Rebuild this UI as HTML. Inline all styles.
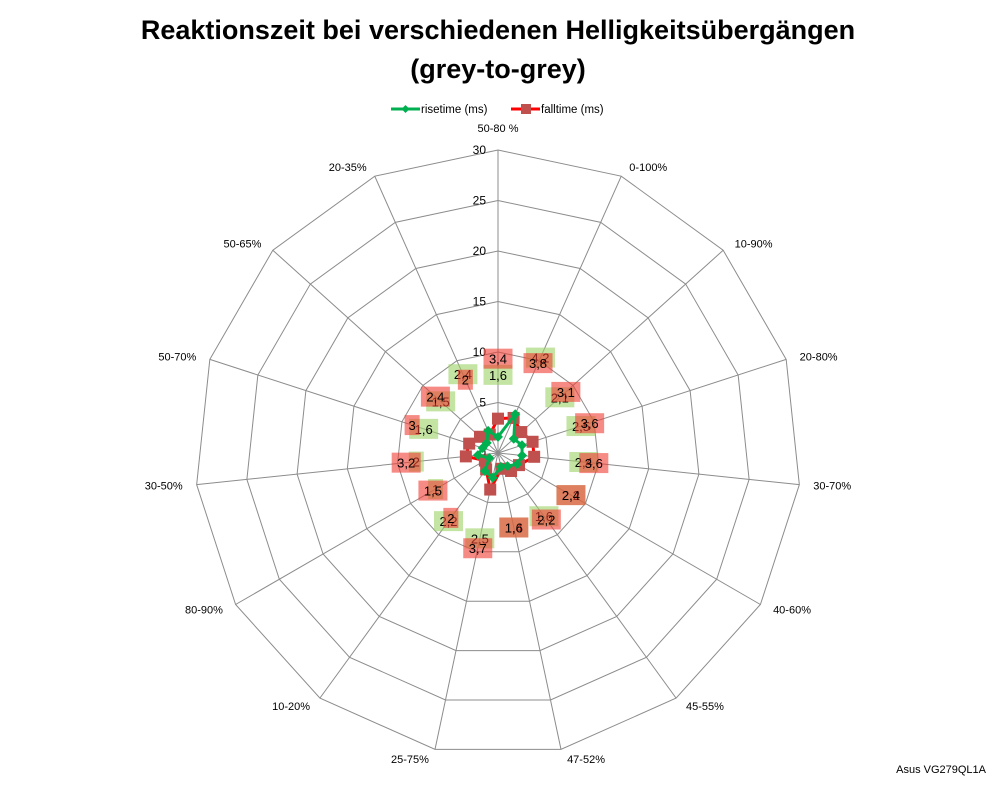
<!DOCTYPE html>
<html><head><meta charset="utf-8">
<style>
body{margin:0;background:#fff;}
svg{display:block;font-family:"Liberation Sans",sans-serif;}
</style></head>
<body>
<svg width="998" height="786" viewBox="0 0 998 786">
<text x="498" y="39" text-anchor="middle" font-size="27" font-weight="bold">Reaktionszeit bei verschiedenen Helligkeitsübergängen</text>
<text x="498" y="78" text-anchor="middle" font-size="27" font-weight="bold">(grey-to-grey)</text>
<g>
<g>
<line x1="391" y1="109" x2="420" y2="109" stroke="#00b050" stroke-width="3"/>
<path d="M405.5 105 L409.5 109 L405.5 113 L401.5 109Z" fill="#00b050"/>
<text x="421" y="113" font-size="11.5">risetime (ms)</text></g>
<g>
<line x1="511" y1="109" x2="540" y2="109" stroke="#ff0000" stroke-width="3"/>
<rect x="521" y="104" width="10" height="10" fill="#c0504d"/>
<text x="541" y="113" font-size="11.5">falltime (ms)</text></g>
</g>
<g id="grid"></g>
<g id="labels"></g>
<g id="series"></g>
<text x="986" y="773" text-anchor="end" font-size="11">Asus VG279QL1A</text>
</svg>
<script>
const categories=["50-80 %","0-100%","10-90%","20-80%","30-70%","40-60%","45-55%","47-52%","25-75%","10-20%","80-90%","30-50%","50-70%","50-65%","20-35%"];
const riseValues=[1.6,4.2,2.1,2.5,2.4,2.2,1.6,1.4,2.5,2.2,1,2,1.6,1.5,2.4];
const fallValues=[3.4,3.8,3.1,3.6,3.6,2.4,2.2,1.6,3.7,2,1.5,3.2,3,2.4,2];
const tickValues=[0,5,10,15,20,25,30];
const NS="http://www.w3.org/2000/svg";
const cx=498,cy=453,R=303,maxV=30,N=categories.length;
function ang(i){return -Math.PI/2+i*2*Math.PI/N;}
function pt(i,v){const r=v/maxV*R,a=ang(i);return [cx+r*Math.cos(a),cy+r*Math.sin(a)];}
function mk(tag,attrs,parent){const e=document.createElementNS(NS,tag);for(const k in attrs)e.setAttribute(k,attrs[k]);parent.appendChild(e);return e;}
const grid=document.getElementById('grid');
tickValues.forEach(t=>{if(t===0)return;
  const pts=categories.map((c,i)=>pt(i,t).join(',')).join(' ');
  const p=mk('polygon',{points:pts,fill:'none',stroke:'#8c8c8c','stroke-width':1},grid);
  
  
});
categories.forEach((c,i)=>{const [x,y]=pt(i,maxV);
  const l=mk('line',{x1:cx,y1:cy,x2:x,y2:y,stroke:'#8c8c8c','stroke-width':1},grid);
  
  
});
tickValues.forEach(t=>{const tx=mk('text',{x:cx-12,y:cy-t/maxV*R+4,'text-anchor':'end','font-size':12},grid);tx.textContent=t;
  
  
});
const labels=document.getElementById('labels');
categories.forEach((c,i)=>{const a=ang(i);const [ex,ey]=pt(i,maxV);
  const cs=Math.cos(a),sn=Math.sin(a);
  const mid=Math.abs(cs)<0.2;
  const anchor=mid?'middle':(cs>0?'start':'end');
  const x=mid?ex:ex+cs*10+(cs>0?4:-4);
  const y=ey+sn*(mid?22:10)+4;
  const t=mk('text',{x:x,y:y,'text-anchor':anchor,'font-size':11},labels);t.textContent=c;
  
  
});
const series=document.getElementById('series');
function fmt(v){return String(v).replace('.',',');}
function drawLabels(vals,color,dy){vals.forEach((v,i)=>{const r=v/maxV*R+60+dy,a=ang(i);
  const x=cx+r*Math.cos(a),y=cy+r*Math.sin(a);
  const s=fmt(v);const w=s.length*7+8;
  const b=mk('rect',{x:x-w/2,y:y-10,width:w,height:20,fill:color},series);
  
  
  const t=mk('text',{x:x,y:y+5,'text-anchor':'middle','font-size':13},series);t.textContent=s;
  
  
});}
drawLabels(riseValues,'rgba(155,210,100,0.6)',2);
drawLabels(fallValues,'rgba(240,60,50,0.6)',0);
function line(vals,color,name){const pts=vals.map((v,i)=>pt(i,v).join(',')).join(' ');
  const p=mk('polygon',{points:pts,fill:'none',stroke:color,'stroke-width':3,'stroke-linejoin':'round'},series);
  
  
}
line(fallValues,'#ff0000','falltime-line');
fallValues.forEach((v,i)=>{const [x,y]=pt(i,v);
  const r=mk('rect',{x:x-6,y:y-6,width:12,height:12,fill:'#c0504d'},series);
  
  
});
line(riseValues,'#00b050','risetime-line');
riseValues.forEach((v,i)=>{const [x,y]=pt(i,v);
  const d=mk('path',{d:`M${x} ${y-5}L${x+5} ${y}L${x} ${y+5}L${x-5} ${y}Z`,fill:'#00b050'},series);
  
  
});
</script>
</body></html>
